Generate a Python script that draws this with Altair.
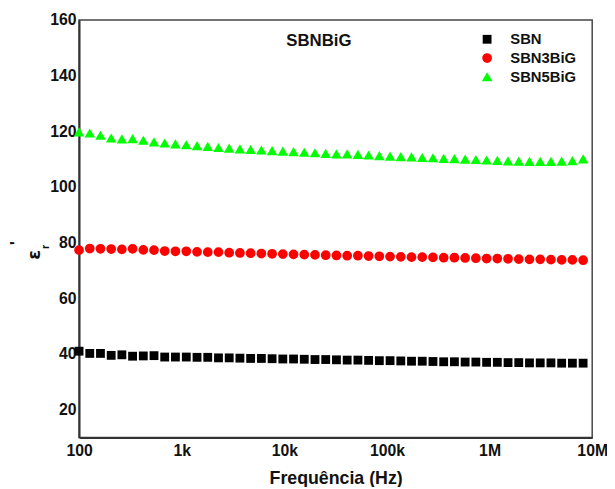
import altair as alt
import pandas as pd

freq = [100, 127.2, 161.7, 205.6, 261.4, 332.3, 422.7, 537.5, 683.5, 869.1,
        1109, 1411, 1795, 2283, 2904, 3694, 4699, 5977, 7603, 9671,
        12303, 15650, 19907, 25323, 32211, 40973, 52119, 66298, 84333, 107275,
        136458, 173580, 220800, 280867, 357273, 454468, 578096, 735360, 935400, 1189867,
        1513561, 1925290, 2449063, 3115280, 3962780, 5040800, 6412095, 8156270]

sbn = [41.0, 40.2, 40.2, 39.5, 39.7, 39.2, 39.3, 39.4, 38.9, 38.9,
       38.9, 38.8, 38.8, 38.6, 38.6, 38.5, 38.4, 38.4, 38.3, 38.2,
       38.2, 38.1, 38.0, 38.0, 37.9, 37.8, 37.8, 37.7, 37.6, 37.6,
       37.5, 37.4, 37.4, 37.3, 37.2, 37.2, 37.1, 37.1, 37.0, 37.0,
       36.9, 36.9, 36.8, 36.8, 36.8, 36.7, 36.7, 36.7]

sbn3 = [77.3, 77.9, 77.8, 77.7, 77.6, 77.8, 77.4, 77.3, 77.0, 76.9,
        76.9, 76.7, 76.6, 76.6, 76.4, 76.3, 76.2, 76.1, 76.0, 75.9,
        75.8, 75.7, 75.6, 75.5, 75.4, 75.3, 75.3, 75.2, 75.1, 75.0,
        74.9, 74.8, 74.8, 74.7, 74.6, 74.6, 74.5, 74.4, 74.3, 74.3,
        74.2, 74.1, 74.0, 74.0, 73.9, 73.8, 73.8, 73.7]

sbn5 = [119.8, 119.4, 118.6, 117.6, 117.3, 117.4, 116.8, 116.2, 115.8, 115.5,
        115.2, 114.9, 114.6, 114.2, 114.0, 113.7, 113.5, 113.3, 113.1, 112.9,
        112.7, 112.5, 112.3, 112.1, 111.9, 111.9, 111.7, 111.5, 111.3, 111.1,
        110.9, 110.8, 110.6, 110.5, 110.3, 110.2, 110.0, 109.9, 109.7, 109.6,
        109.4, 109.3, 109.2, 109.2, 109.2, 109.3, 109.5, 110.1]

series = ["SBN", "SBN3BiG", "SBN5BiG"]
colors = ["#000000", "#ff0000", "#00ff00"]
shapes = ["square", "circle", "triangle-up"]
sizes = [80, 115, 190]
x_ticks = [100, 1000, 10000, 100000, 1000000, 10000000]
y_ticks = [20, 40, 60, 80, 100, 120, 140, 160]

rows = []
for name, vals in zip(series, [sbn, sbn3, sbn5]):
    for f, v in zip(freq, vals):
        rows.append({"f": f, "e": v, "s": name})
df = pd.DataFrame(rows)

FONT = "Liberation Sans"

leg = alt.Legend(title=None, orient="none", legendX=406, legendY=12,
                 labelFont=FONT, labelFontSize=15, labelFontWeight="bold",
                 labelColor="#111", labelOffset=16, rowPadding=3)

points = alt.Chart(df).mark_point(filled=True, opacity=1).encode(
    x=alt.X("f:Q", scale=alt.Scale(type="log", domain=[100, 10000000]),
            axis=alt.Axis(values=x_ticks, title="Frequência (Hz)",
                          labelExpr="datum.value >= 1000000 ? format(datum.value/1000000,'d') + 'M' : datum.value >= 1000 ? format(datum.value/1000,'d') + 'k' : format(datum.value,'d')",
                          grid=False, ticks=False, labelPadding=5,
                          labelFontSize=16, labelFont=FONT, labelFontWeight="bold",
                          labelColor="#111", labelFlush=False,
                          titleFontSize=18, titleFont=FONT, titleFontWeight="bold",
                          titleColor="#111", titlePadding=12,
                          domainColor="#333", domainWidth=2)),
    y=alt.Y("e:Q", scale=alt.Scale(domain=[10, 160], nice=False),
            axis=alt.Axis(values=y_ticks, title=None, grid=False, ticks=False,
                          labelPadding=3, labelFontSize=16, labelFont=FONT,
                          labelFontWeight="bold", labelColor="#111",
                          domainColor="#333", domainWidth=2)),
    color=alt.Color("s:N", scale=alt.Scale(domain=series, range=colors), legend=leg),
    shape=alt.Shape("s:N", scale=alt.Scale(domain=series, range=shapes), legend=leg),
    size=alt.Size("s:N", scale=alt.Scale(domain=series, range=sizes), legend=leg),
)

title_txt = alt.Chart(pd.DataFrame({"t": ["SBNBiG"]})).mark_text(
    font=FONT, fontSize=17, fontWeight="bold", color="#111", align="center", baseline="middle"
).encode(x=alt.value(243), y=alt.value(21), text="t:N")

eps = alt.Chart(pd.DataFrame({"t": ["ε"]})).mark_text(
    font="DejaVu Sans", fontSize=18, fontWeight="bold", color="#111", angle=270,
    align="center", baseline="middle"
).encode(x=alt.value(-45), y=alt.value(238), text="t:N")

sub_r = alt.Chart(pd.DataFrame({"t": ["r"]})).mark_text(
    font=FONT, fontSize=11, fontWeight="bold", color="#111", angle=270,
    align="center", baseline="middle"
).encode(x=alt.value(-33), y=alt.value(230), text="t:N")

prime = alt.Chart(pd.DataFrame({"t": ["'"]})).mark_text(
    font=FONT, fontSize=16, fontWeight="bold", color="#111", angle=270,
    align="center", baseline="middle"
).encode(x=alt.value(-63), y=alt.value(226), text="t:N")

chart = alt.layer(points, title_txt, eps, sub_r, prime).properties(
    width=520, height=423,
    autosize=alt.AutoSizeParams(type="none"),
    padding={"left": 72, "top": 9, "right": 15, "bottom": 47},
).configure_view(stroke="#444", strokeWidth=1.5)

chart.save("out.html", embed_options={"renderer": "svg", "actions": False})
